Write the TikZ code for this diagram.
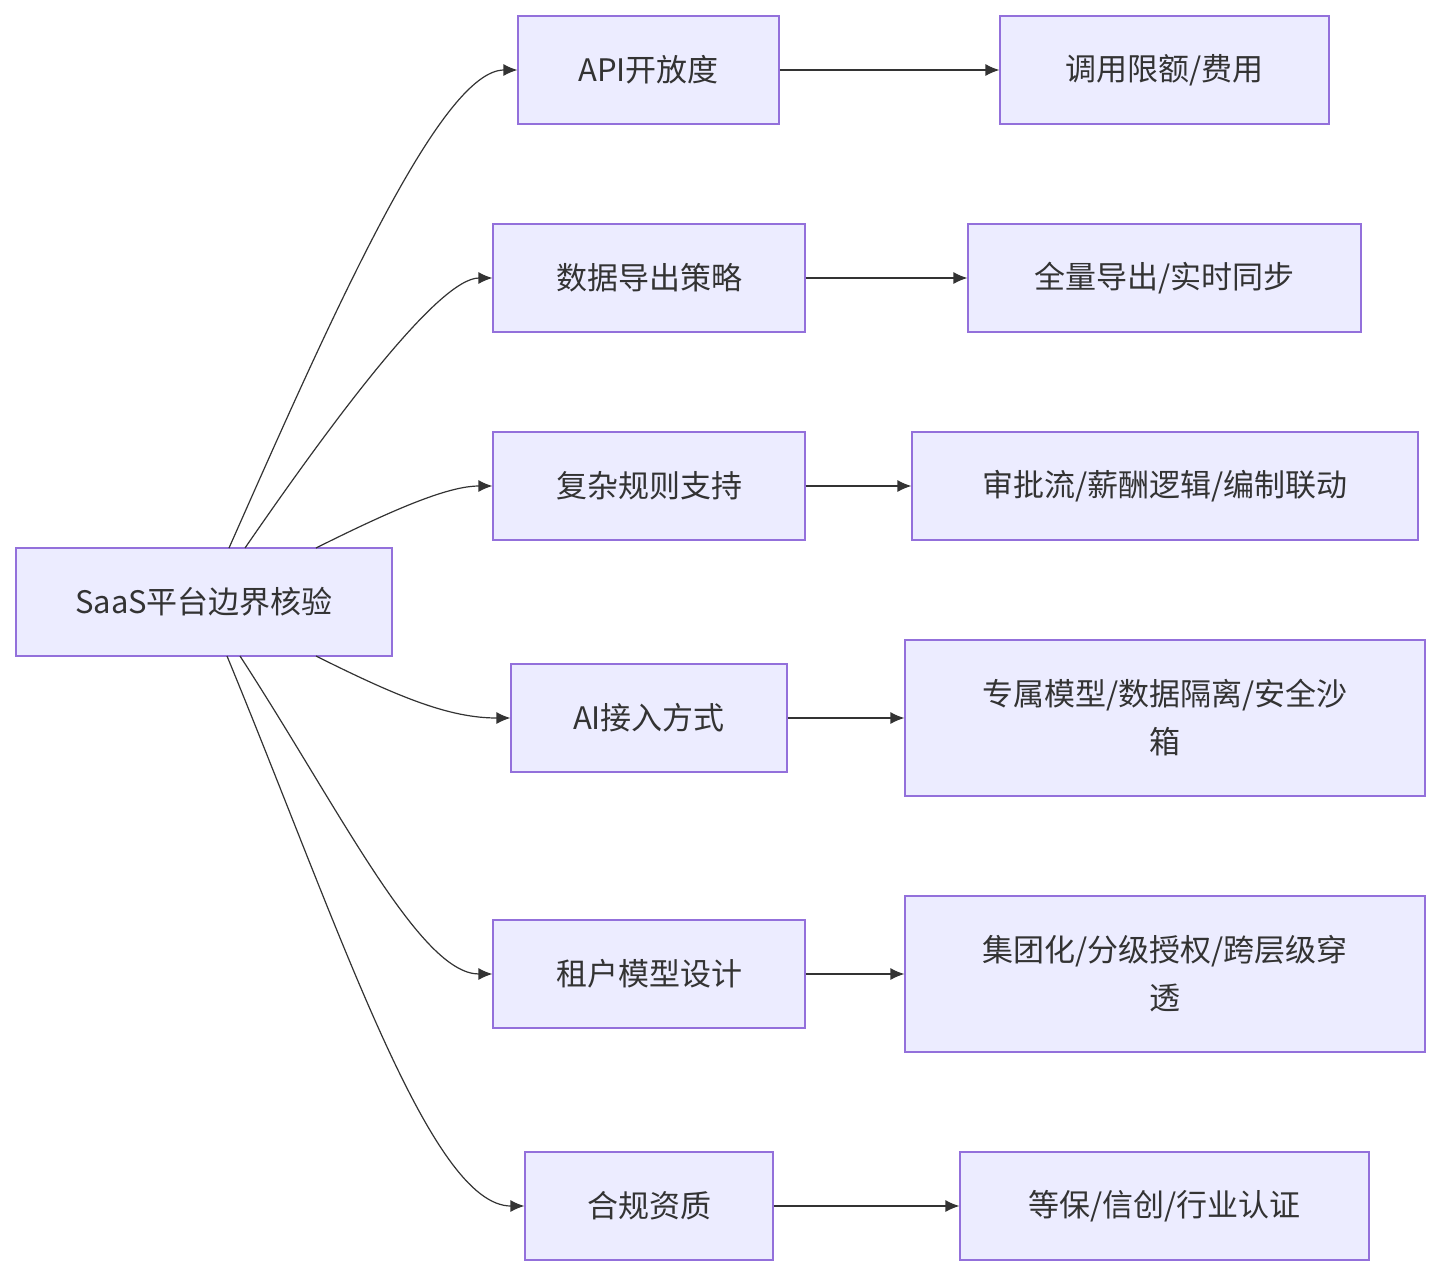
\documentclass[tikz,border=0pt]{standalone}
\usepackage{fontspec}
\setmainfont{Noto Sans CJK SC}
\usetikzlibrary{positioning}
\usetikzlibrary{calc}
\usetikzlibrary{arrows.meta}
\definecolor{boxfill}{HTML}{ECECFF}
\definecolor{boxline}{HTML}{9370DB}
\definecolor{edge}{HTML}{333333}
\tikzset{
    box/.style = {rectangle,draw=boxline,fill=boxfill,line width=0.6pt,inner sep=0pt,
      align=center,text=edge,font=\fontsize{15.5}{24}\selectfont},
    link/.style = {draw=edge,line width=0.6pt,-{Latex[length=7pt,width=6pt]}}}
\begin{document}
\begin{tikzpicture}[x=0.5pt,y=-0.5pt]
        \useasboundingbox (0,0) rectangle (1440,1276);
        \node[box,minimum width=188pt,minimum height=54pt] (root) at (204,602) {SaaS平台边界核验};
        \node[box,minimum width=130.5pt,minimum height=54pt] (api) at (648.5,70) {API开放度};
        \node[box,minimum width=156pt,minimum height=54pt] (export) at (649,278) {数据导出策略};
        \node[box,minimum width=156pt,minimum height=54pt] (rule) at (649,486) {复杂规则支持};
        \node[box,minimum width=138pt,minimum height=54pt] (ai) at (649,718) {AI接入方式};
        \node[box,minimum width=156pt,minimum height=54pt] (tenant) at (649,974) {租户模型设计};
        \node[box,minimum width=124pt,minimum height=54pt] (comply) at (649,1206) {合规资质};
        \node[box,minimum width=164.5pt,minimum height=54pt] (quota) at (1164.5,70) {调用限额/费用};
        \node[box,minimum width=196.5pt,minimum height=54pt] (sync) at (1164.5,278) {全量导出/实时同步};
        \node[box,minimum width=253pt,minimum height=54pt] (flow) at (1165,486) {审批流/薪酬逻辑/编制联动};
        \node[box,minimum width=260pt,minimum height=78pt] (sandbox) at (1165,718) {专属模型/数据隔离/安全沙\\箱};
        \node[box,minimum width=260pt,minimum height=78pt] (group) at (1165,974) {集团化/分级授权/跨层级穿\\透};
        \node[box,minimum width=204.5pt,minimum height=54pt] (cert) at (1164.5,1206) {等保/信创/行业认证};
        % root to first column
        \coordinate (r1) at (229,548);
        \coordinate (r2) at (245,548);
        \coordinate (r3) at (316,548);
        \coordinate (r4) at (316,656);
        \coordinate (r5) at (240,656);
        \coordinate (r6) at (227,656);
        \draw[link] (r1) .. controls (330,320) and (440,70) .. (api.west);
        \draw[link] (r2) .. controls (340,410) and (440,278) .. (export.west);
        \draw[link] (r3) .. controls (400,506) and (450,486) .. (rule.west);
        \draw[link] (r4) .. controls (400,698) and (450,718) .. (ai.west);
        \draw[link] (r5) .. controls (340,810) and (420,974) .. (tenant.west);
        \draw[link] (r6) .. controls (340,930) and (430,1206) .. (comply.west);
        % first column to second column
        \draw[link] (api) -- (quota);
        \draw[link] (export) -- (sync);
        \draw[link] (rule) -- (flow);
        \draw[link] (ai) -- (sandbox);
        \draw[link] (tenant) -- (group);
        \draw[link] (comply) -- (cert);
\end{tikzpicture}
\end{document}
